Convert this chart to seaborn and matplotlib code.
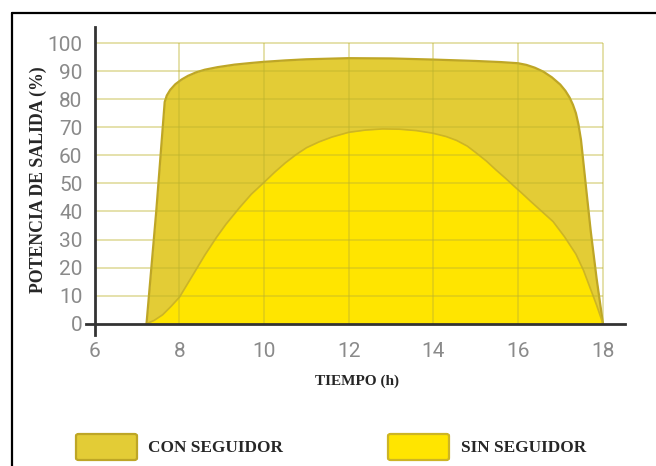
import numpy as np
import pandas as pd
import matplotlib
matplotlib.use("Agg")
import matplotlib.pyplot as plt
import seaborn as sns
from matplotlib.patches import FancyBboxPatch
from matplotlib.lines import Line2D

# ---- data ----
con_t = [7.22, 7.45, 7.65, 7.7, 7.78, 7.9, 8.05, 8.2, 8.4, 8.6, 8.9, 9.3, 9.7, 10.0,
         10.5, 11.0, 12.0, 13.0, 14.0, 15.0, 15.6, 16.0, 16.2, 16.4, 16.6, 16.8,
         17.0, 17.12, 17.22, 17.3, 17.37, 17.43, 17.49, 17.55, 17.62, 17.72, 17.86, 18.01]
con_v = [0, 40, 79, 81.3, 83.3, 85.3, 87.0, 88.3, 89.6, 90.5, 91.4, 92.3, 92.9, 93.3,
         93.8, 94.2, 94.6, 94.5, 94.1, 93.6, 93.2, 92.8, 92.2, 91.2, 89.8, 87.8,
         85.2, 83.0, 80.6, 78.0, 75.0, 71.0, 65.5, 57, 47, 33, 16, 0]

sin_t = [7.22, 7.4, 7.6, 7.8, 8.0, 8.2, 8.4, 8.6, 8.87, 9.1, 9.42, 9.7, 10.0, 10.25,
         10.5, 10.75, 11.0, 11.3, 11.6, 12.0, 12.4, 12.8, 13.2, 13.6, 13.98, 14.3,
         14.55, 14.8, 15.0, 15.25, 15.48, 15.7, 15.88, 16.1, 16.3, 16.55, 16.83,
         17.1, 17.37, 17.55, 17.7, 17.85, 18.01]
sin_v = [0, 1.2, 3.2, 6.2, 9.5, 14.5, 19.5, 24.5, 30.7, 35.5, 41.4, 46.2, 50.4, 54.0,
         57.3, 60.2, 62.7, 64.8, 66.5, 68.2, 69.0, 69.4, 69.3, 68.8, 67.9, 66.7,
         65.3, 63.3, 61.0, 58.0, 54.8, 51.9, 49.4, 46.4, 43.6, 40.2, 36.4,
         31.0, 24.8, 19.0, 13.0, 7.0, 0]

x_ticks = [6, 8, 10, 12, 14, 16, 18]
y_ticks = [0, 10, 20, 30, 40, 50, 60, 70, 80, 90, 100]
series_names = ["CON SEGUIDOR", "SIN SEGUIDOR"]
xlabel = "TIEMPO (h)"
ylabel = "POTENCIA DE SALIDA (%)"

# ---- style ----
sns.set_style("white")
plt.rcParams["font.family"] = ["DejaVu Sans"]

CON_FILL = "#E3CC36"
CON_EDGE = "#BEA626"
SIN_FILL = "#FFE500"
SIN_EDGE = "#CDB524"
GRID = (0.74, 0.70, 0.18)
TICK_COL = "#8a8a8a"

W, H = 656, 466
fig = plt.figure(figsize=(W / 100, H / 100), dpi=100)
fig.patch.set_facecolor("white")

ax = fig.add_axes([86 / W, 1 - 335 / H, (625 - 86) / W, (335 - 27) / H])
ax.set_xlim(5.79, 18.53)
ax.set_ylim(-4, 105.7)

# fills
ax.fill_between(con_t, con_v, 0, color=CON_FILL, lw=0, zorder=1)
ax.fill_between(sin_t, sin_v, 0, color=SIN_FILL, lw=0, zorder=2)
df_con = pd.DataFrame({"t": con_t, "v": con_v})
df_sin = pd.DataFrame({"t": sin_t, "v": sin_v})
sns.lineplot(data=df_con, x="t", y="v", ax=ax, color=CON_EDGE, lw=1.6,
             sort=False, estimator=None, zorder=3)
sns.lineplot(data=df_sin, x="t", y="v", ax=ax, color=SIN_EDGE, lw=1.2,
             sort=False, estimator=None, zorder=4)

# grid
ax.hlines(y_ticks[1:], 6, 18, color=GRID, alpha=0.4, lw=1.4, zorder=5)
ax.vlines(x_ticks[1:], 0, 100, color=GRID, alpha=0.4, lw=1.4, zorder=5)

# spines
for s in ["top", "right"]:
    ax.spines[s].set_visible(False)
ax.spines["left"].set_position(("data", 6))
ax.spines["bottom"].set_position(("data", 0))
for s in ["left", "bottom"]:
    ax.spines[s].set_color("#333333")
    ax.spines[s].set_linewidth(2.0)
    ax.spines[s].set_zorder(6)

ax.set_xticks(x_ticks)
ax.set_yticks(y_ticks)
ax.set_xticklabels([str(v) for v in x_ticks], family="Roboto", fontsize=15,
                   color=TICK_COL)
ax.set_yticklabels([str(v) for v in y_ticks], family="Roboto", fontsize=15,
                   color=TICK_COL)
ax.tick_params(axis="x", length=0, pad=13)
ax.tick_params(axis="y", length=0, pad=9)
ax.set_xlabel("")
ax.set_ylabel("")
ax.patch.set_alpha(0)

# axis titles
fig.text(357 / W, 1 - 381 / H, xlabel, ha="center", va="center",
         family="Liberation Serif", fontweight="bold", fontsize=11)
fig.text(38 / W, 1 - 180 / H, ylabel, ha="center", va="center", rotation=90,
         family="Liberation Serif", fontweight="bold", fontsize=12.8)

# legend
leg_items = [(76, CON_FILL, CON_EDGE, series_names[0], 148),
             (388, SIN_FILL, SIN_EDGE, series_names[1], 461)]
for x0, fc, ec, name, tx in leg_items:
    r = FancyBboxPatch((x0 / W, 1 - 460 / H), 61 / W, 26 / H,
                       boxstyle="round,pad=0,rounding_size=0.004",
                       transform=fig.transFigure, facecolor=fc, edgecolor=ec,
                       lw=1.6)
    fig.patches.append(r)
    fig.text(tx / W, 1 - 448 / H, name, ha="left", va="center",
             family="Liberation Serif", fontweight="bold", fontsize=12.4)

# outer frame (left and top)
fig.add_artist(Line2D([12 / W, 12 / W], [0, 1 - 13 / H], color="black", lw=1.6,
                      transform=fig.transFigure))
fig.add_artist(Line2D([12 / W, 1], [1 - 13 / H, 1 - 13 / H], color="black", lw=1.6,
                      transform=fig.transFigure))

fig.savefig("out.png", dpi=100)
